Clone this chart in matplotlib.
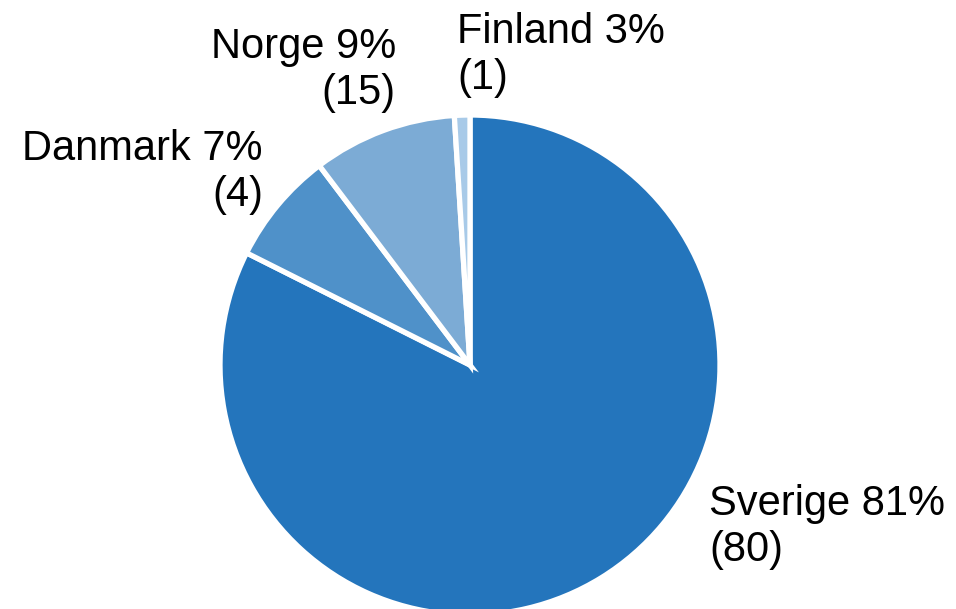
import matplotlib
matplotlib.use("Agg")
import matplotlib.pyplot as plt

# slices clockwise from 12 o'clock
countries = ["Sverige", "Danmark", "Norge", "Finland"]
shares    = [82.4, 7.3, 9.3, 1.0]          # wedge sizes
pct_text  = ["81%", "7%", "9%", "3%"]      # printed percentages
counts    = [80, 4, 15, 1]
colors    = ["#2475BC", "#4F91C9", "#7CABD5", "#A8CAE8"]

W, H = 956, 609
plt.rcParams["font.family"] = ["Liberation Sans", "DejaVu Sans"]

fig = plt.figure(figsize=(W / 100, H / 100), dpi=100)
# pie centre at (470, 365) px from top-left, radius ~250 px
cx, cy, r = 470, 365, 250
ax = fig.add_axes([(cx - r) / W, (H - cy - r) / H, 2 * r / W, 2 * r / H])
ax.pie(shares, colors=colors, startangle=90, counterclock=False,
       wedgeprops=dict(edgecolor="white", linewidth=3.8))
ax.set_xlim(-1, 1); ax.set_ylim(-1, 1)
ax.set_aspect("equal")
ax.axis("off")

# label anchors in px (top of text box), with alignment
label_pos = {
    "Sverige": (709, 484, "left"),
    "Danmark": (263, 129, "right"),
    "Norge":   (396, 27, "right"),
    "Finland": (457, 12, "left"),
}
for c, p, n in zip(countries, pct_text, counts):
    x, y, ha = label_pos[c]
    fig.text(x / W, 1 - y / H, f"{c} {p}\n({n})", ha=ha, va="top",
             fontsize=30, linespacing=1.2, multialignment=ha)

fig.savefig("out.png", dpi=100)
